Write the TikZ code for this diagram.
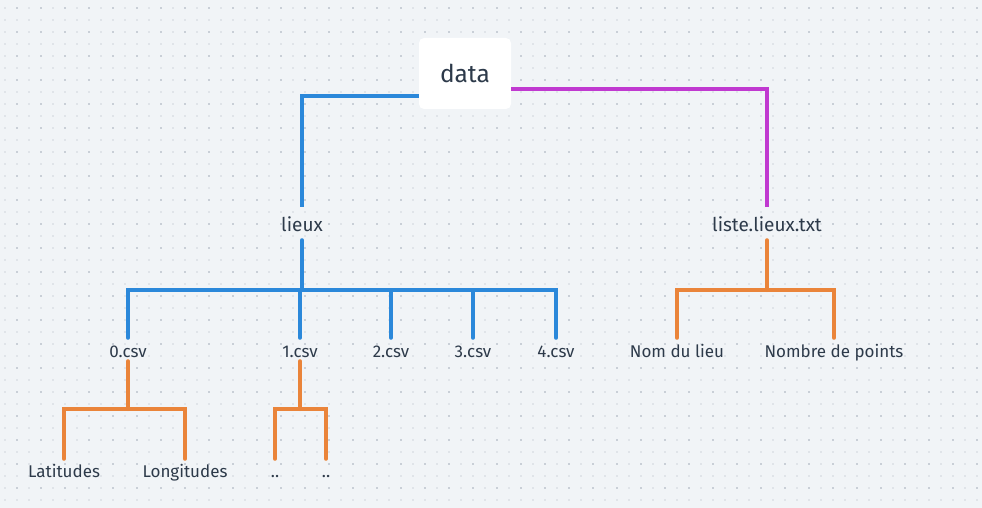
\documentclass[tikz,border=0pt]{standalone}
\usepackage{fontspec}
\setmainfont{Fira Sans}
\definecolor{bgc}{HTML}{F1F4F7}
\definecolor{dotl}{HTML}{E0E4E9}
\definecolor{dotd}{HTML}{C9CFD7}
\definecolor{txt}{HTML}{2D3A4A}
\definecolor{cblue}{HTML}{2B88DA}
\definecolor{cmag}{HTML}{C039D0}
\definecolor{corange}{HTML}{EA843A}
\begin{document}
\begin{tikzpicture}[x=1pt,y=-1pt,
  lbl/.style={font=\fontsize{17}{20}\selectfont, text=txt, inner sep=0pt, anchor=base},
  lvA/.style={lbl, font=\fontsize{19}{22}\selectfont, text height=24pt, text depth=9pt},
  lvB/.style={lbl, text height=19pt, text depth=4pt},
  lvC/.style={lbl, text height=18pt, text depth=0pt},
  conn/.style={line width=4pt, line cap=round},
  rootbox/.style={fill=white, rounded corners=5pt, minimum width=92pt, minimum height=71pt, inner sep=0pt, font=\fontsize{24.5}{28}\selectfont, text=txt}
]
\useasboundingbox (0,0) rectangle (982,508);
\fill[bgc] (0,0) rectangle (982,508);
\foreach \i in {0,...,81}{
  \foreach \j in {0,...,42}{
    \fill[dotl] ({5+12*\i-1},{7.7+12*\j-1}) rectangle ++(2,2);
  }
}
\foreach \i in {0,...,40}{
  \foreach \j in {0,...,21}{
    \fill[dotd] ({17+24*\i-1},{7.7+24*\j-1}) rectangle ++(2,2);
  }
}
% nodes
\node[rootbox] (data) at (465,73.5) {data};
\node[lvA] (lieux) at (302,231) {lieux};
\node[lvA] (liste) at (767,231) {liste.lieux.txt};
\node[lvB] (c0) at (128,357) {0.csv};
\node[lvB] (c1) at (300,357) {1.csv};
\node[lvB] (c2) at (391,357) {2.csv};
\node[lvB] (c3) at (473,357) {3.csv};
\node[lvB] (c4) at (556,357) {4.csv};
\node[lvB] (nom) at (677,357) {Nom du lieu};
\node[lvB] (nombre) at (834,357) {Nombre de points};
\node[lvC] (lat) at (64,477) {Latitudes};
\node[lvC] (lon) at (185,477) {Longitudes};
\node[lvC] (p1) at (275,477) {..};
\node[lvC] (p2) at (326,477) {..};
% bus coordinates
\coordinate (busA) at (0,290);
\coordinate (busB) at (0,409);
% connectors
\draw[conn, cblue, line cap=butt] ([yshift=-23pt]data.west) -| (lieux.north);
\draw[conn, cmag, line cap=butt] ([yshift=-15.5pt]data.east) -| (liste.north);
\draw[conn, cblue] (lieux.south) -- (lieux.south |- busA);
\draw[conn, cblue] (c0.north) |- (c4.north |- busA) -- (c4.north);
\foreach \n in {c1,c2,c3}{\draw[conn, cblue] (\n.north) -- (\n.north |- busA);}
\draw[conn, corange] (liste.south) -- (liste.south |- busA);
\draw[conn, corange] (nom.north) |- (nombre.north |- busA) -- (nombre.north);
\draw[conn, corange] (c0.south) -- (c0.south |- busB);
\draw[conn, corange] (lat.north) |- (lon.north |- busB) -- (lon.north);
\draw[conn, corange] (c1.south) -- (c1.south |- busB);
\draw[conn, corange] (p1.north) |- (p2.north |- busB) -- (p2.north);
\end{tikzpicture}
\end{document}
